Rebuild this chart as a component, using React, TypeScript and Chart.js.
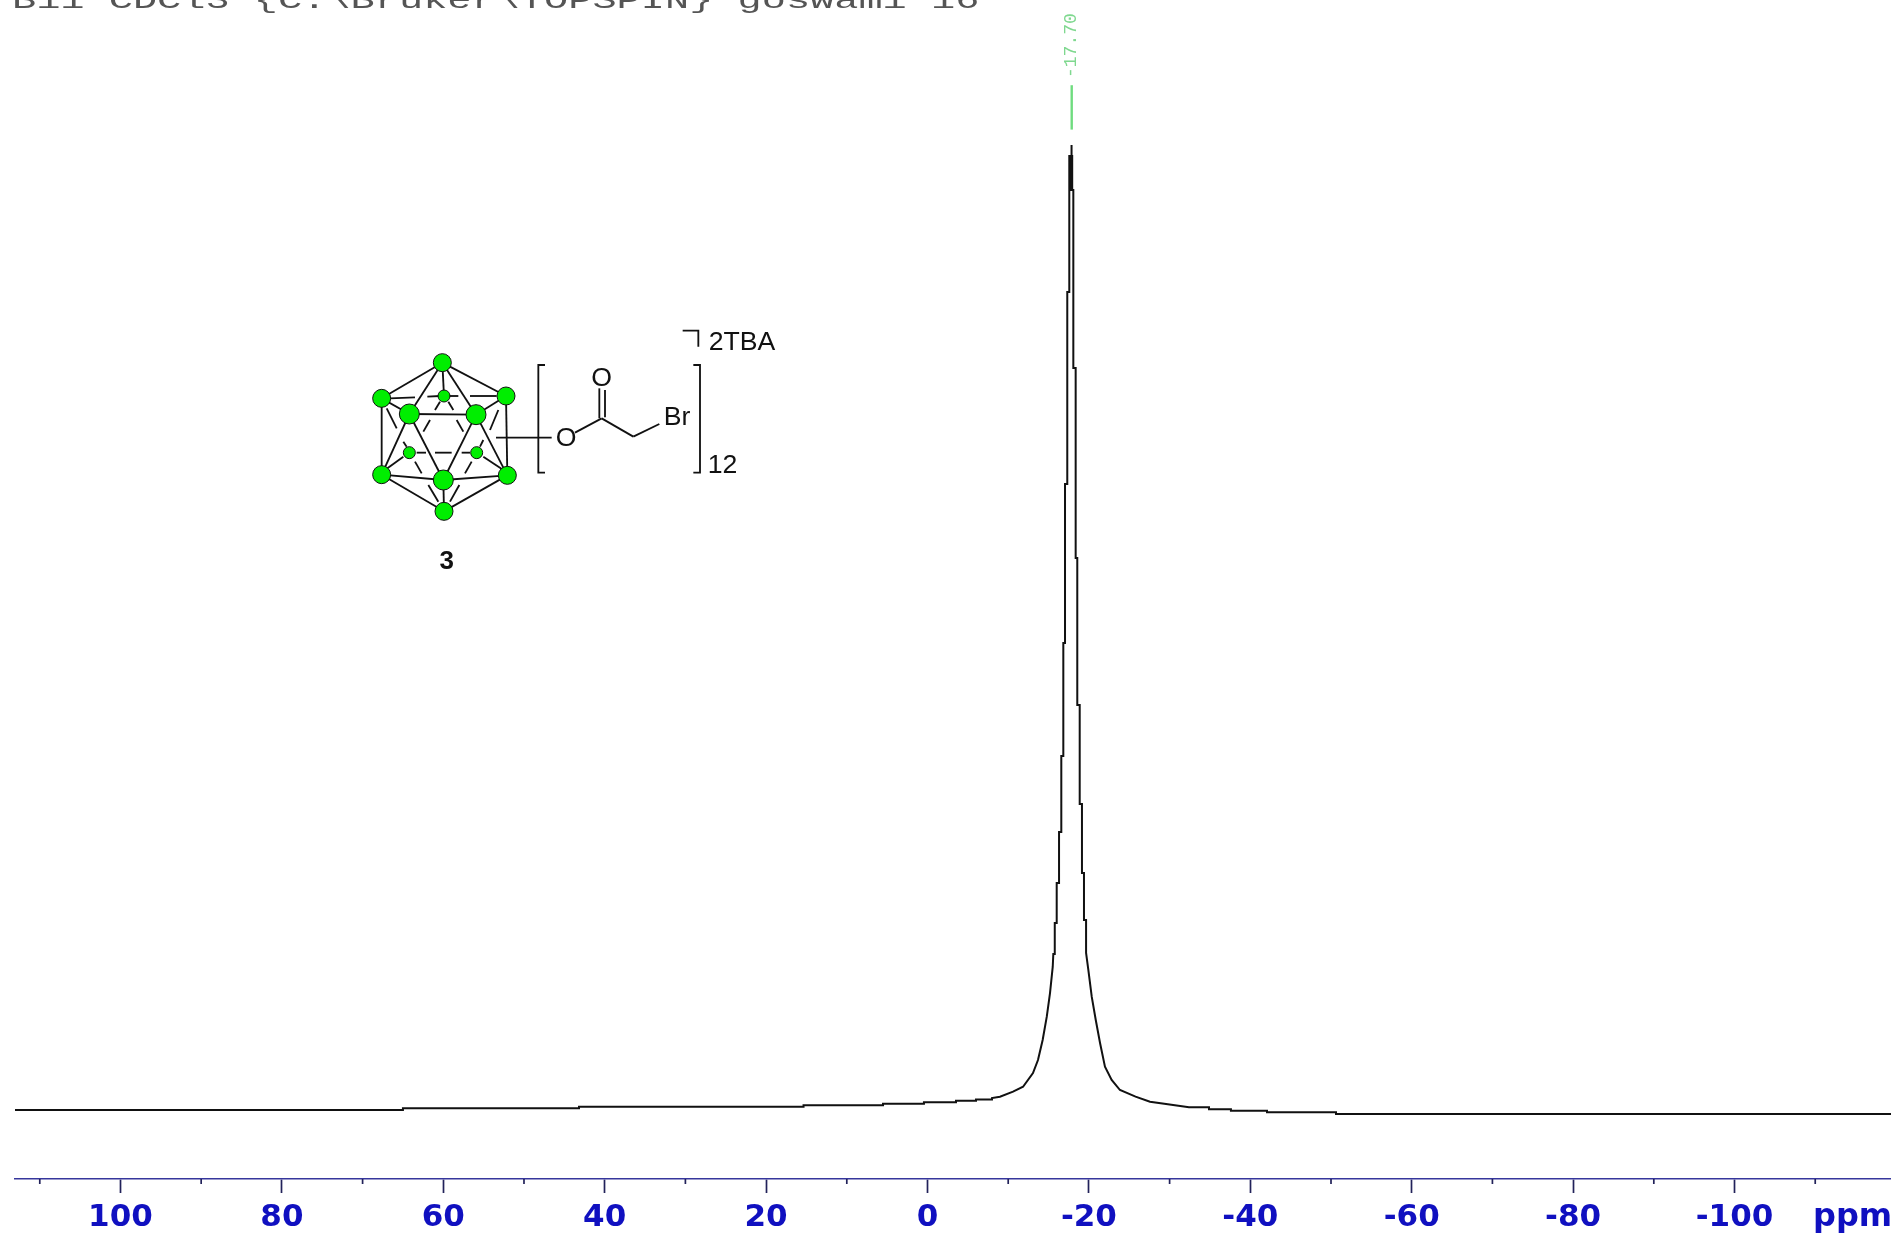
import React, { useEffect, useRef } from "react";
import { Chart, registerables } from "chart.js";

Chart.register(...registerables);

const titleText = "B11 CDCl3 {C:\\Bruker\\TOPSPIN} goswami 16";
const peakLabel = "-17.70";
const peakLinePpm = -17.87;
const xMajorTicks = [100, 80, 60, 40, 20, 0, -20, -40, -60, -80, -100];
const xMinorTicks = [110, 90, 70, 50, 30, 10, -10, -30, -50, -70, -90, -110];
const xMin = -119.39;
const xMax = 113.07;
const yMin = -7.15;
const yMax = 115.03;

const ppmValues = [
  113.07, 65.0, 65.0, 43.18, 43.18, 15.36, 15.36, 5.51, 5.51, 0.44, 0.44, -3.53, -3.53, -6.01, -6.01, -7.99, -7.99,
  -8.98, -10.6, -11.84, -13.07, -13.69, -14.27, -14.78, -15.18, -15.52, -15.59, -15.77, -15.77, -16.01, -16.01,
  -16.3, -16.3, -16.58, -16.58, -16.83, -16.83, -17.04, -17.04, -17.32, -17.32, -17.57, -17.57,
  -17.81, -17.81, -17.87, -17.87, -17.71, -17.71, -17.93, -17.93, -18.07, -18.07,
  -18.36, -18.36, -18.56, -18.56, -18.86, -18.86, -19.14, -19.14, -19.39, -19.39, -19.65, -19.65,
  -19.93, -20.35, -20.85, -21.38, -21.99, -22.82, -23.85, -25.78, -27.57, -29.56, -32.4, -34.88, -34.88,
  -37.6, -37.6, -42.07, -42.07, -50.62, -50.62, -119.39,
];
const intensityValues = [
  0, 0, 0.18, 0.18, 0.34, 0.34, 0.49, 0.49, 0.65, 0.65, 0.8, 0.8, 0.96, 0.96, 1.09, 1.09, 1.24,
  1.38, 1.9, 2.41, 3.83, 5.18, 7.25, 9.67, 12.12, 14.85, 16.17, 16.17, 19.38, 19.38, 23.52,
  23.52, 28.81, 28.81, 36.68, 36.68, 48.39, 48.39, 64.87, 64.87, 84.77, 84.77, 98.86,
  98.86, 100, 100, 95.34, 95.34, 98.86, 98.86, 95.34, 95.34, 76.89,
  76.89, 57.2, 57.2, 41.97, 41.97, 31.71, 31.71, 24.56, 24.56, 19.69, 19.69, 16.27,
  14.51, 11.74, 9.33, 6.94, 4.49, 3.11, 2.07, 1.38, 0.86, 0.62, 0.28, 0.28, 0.07,
  0.07, -0.07, -0.07, -0.24, -0.24, -0.41, -0.41,
];

const solidBonds = [
  [307, 158, 125, 265], [307, 158, 498, 258], [307, 158, 208, 312], [307, 158, 408, 314], [307, 158, 312, 258],
  [125, 265, 208, 312], [498, 258, 408, 314], [208, 312, 408, 314], [208, 312, 125, 494], [208, 312, 310, 510],
  [408, 314, 310, 510], [408, 314, 502, 496], [125, 265, 125, 494], [498, 258, 502, 496], [125, 494, 310, 510],
  [502, 496, 310, 510], [125, 494, 312, 604], [502, 496, 312, 604], [310, 510, 312, 604],
  [150, 265, 225, 262], [262, 260, 300, 258], [390, 258, 470, 258], [325, 258, 355, 258],
  [300, 275, 285, 300], [325, 275, 340, 300], [140, 295, 170, 355], [190, 395, 200, 410],
  [475, 300, 450, 360], [430, 390, 420, 410], [230, 428, 258, 428], [285, 428, 335, 428], [365, 428, 390, 428],
  [270, 330, 250, 365], [350, 330, 370, 365], [190, 440, 135, 480], [430, 440, 490, 480],
  [225, 455, 245, 490], [395, 455, 375, 490], [265, 525, 295, 575], [358, 525, 330, 575],
  [468, 383, 635, 383], [705, 368, 785, 325], [778, 235, 778, 325], [795, 240, 795, 322],
  [785, 325, 880, 380], [880, 380, 958, 342],
];
const brackets = [
  [[615, 165], [595, 165], [595, 488], [615, 488]],
  [[1060, 165], [1080, 165], [1080, 488], [1060, 488]],
  [[1028, 62], [1075, 62], [1075, 110]],
];
const nodes = [
  [307, 158, 27], [125, 265, 27], [498, 258, 27], [312, 258, 18], [208, 428, 18], [410, 428, 18],
  [208, 312, 30], [408, 314, 30], [125, 494, 27], [502, 496, 27], [310, 510, 30], [312, 604, 27],
];

const overlay = {
  id: "overlay",
  afterDraw(chart: any) {
    const { ctx, chartArea, scales } = chart;
    const x = scales.x;
    const y = scales.y;

    // minor ticks from the x scale
    ctx.save();
    ctx.strokeStyle = "#22225a";
    ctx.lineWidth = 1.7;
    xMinorTicks.forEach((v) => {
      const px = x.getPixelForValue(v);
      ctx.beginPath();
      ctx.moveTo(px, chartArea.bottom);
      ctx.lineTo(px, chartArea.bottom + 5);
      ctx.stroke();
    });
    ctx.restore();

    // unit
    ctx.save();
    ctx.fillStyle = "#1010c0";
    ctx.font = "bold 32px 'DejaVu Sans'";
    ctx.textBaseline = "alphabetic";
    ctx.textAlign = "left";
    ctx.fillText("ppm", 1813, 1226);
    ctx.restore();

    // title, stretched
    ctx.save();
    ctx.fillStyle = "#555";
    ctx.font = "26px 'Liberation Mono'";
    ctx.textBaseline = "alphabetic";
    ctx.textAlign = "left";
    ctx.translate(12, 8);
    ctx.scale(1.55, 1);
    ctx.fillText(titleText, 0, 0);
    ctx.restore();

    // peak label
    const peakX = x.getPixelForValue(peakLinePpm);
    ctx.save();
    ctx.strokeStyle = "#6fdc7f";
    ctx.lineWidth = 2.4;
    ctx.beginPath();
    ctx.moveTo(peakX, y.getPixelForValue(106.2));
    ctx.lineTo(peakX, y.getPixelForValue(101.6));
    ctx.stroke();
    ctx.translate(peakX, 78);
    ctx.rotate(-Math.PI / 2);
    ctx.fillStyle = "#7fd88f";
    ctx.font = "18px 'Liberation Mono'";
    ctx.textAlign = "left";
    ctx.textBaseline = "middle";
    ctx.fillText(peakLabel, 0, 0);
    ctx.restore();

    // structure inset
    ctx.save();
    ctx.translate(340, 310);
    ctx.scale(1 / 3, 1 / 3);
    ctx.strokeStyle = "#111";
    ctx.lineWidth = 5.5;
    ctx.lineCap = "butt";
    solidBonds.forEach(([a, b, c, d]) => {
      ctx.beginPath();
      ctx.moveTo(a, b);
      ctx.lineTo(c, d);
      ctx.stroke();
    });
    brackets.forEach((pts) => {
      ctx.beginPath();
      pts.forEach(([px, py], i) => (i ? ctx.lineTo(px, py) : ctx.moveTo(px, py)));
      ctx.stroke();
    });
    nodes.forEach(([cx, cy, r]) => {
      ctx.beginPath();
      ctx.arc(cx, cy, r, 0, Math.PI * 2);
      ctx.fillStyle = "#00ee00";
      ctx.fill();
      ctx.lineWidth = 3;
      ctx.strokeStyle = "#111";
      ctx.stroke();
    });
    ctx.fillStyle = "#111";
    ctx.font = "80px 'Liberation Sans'";
    ctx.textBaseline = "middle";
    ctx.textAlign = "center";
    ctx.fillText("O", 678, 387);
    ctx.fillText("O", 785, 206);
    ctx.fillText("Br", 1011, 324);
    ctx.textAlign = "left";
    ctx.fillText("2TBA", 1106, 97);
    ctx.fillText("12", 1103, 467);
    ctx.textAlign = "center";
    ctx.font = "bold 78px 'Liberation Sans'";
    ctx.fillText("3", 320, 754);
    ctx.restore();
  },
};

export default function App() {
  const ref = useRef<HTMLCanvasElement>(null);
  useEffect(() => {
    const chart = new Chart(ref.current as HTMLCanvasElement, {
      type: "scatter",
      data: {
        datasets: [
          {
            label: "11B NMR",
            data: ppmValues.map((p, i) => ({ x: p, y: intensityValues[i] })),
            showLine: true,
            borderColor: "#111",
            borderWidth: 2,
            pointRadius: 0,
            tension: 0,
          },
        ],
      },
      options: {
        animation: false,
        responsive: false,
        layout: { padding: { left: 15, right: 0, top: 0, bottom: 0 } },
        plugins: { legend: { display: false }, tooltip: { enabled: false }, title: { display: false } },
        scales: {
          x: {
            type: "linear",
            reverse: true,
            min: xMin,
            max: xMax,
            position: "bottom",
            afterBuildTicks: (axis: any) => {
              axis.ticks = xMajorTicks.map((value) => ({ value }));
            },
            afterFit: (axis: any) => {
              axis.height = 60;
            },
            border: { color: "#36369c", width: 1.6 },
            grid: { drawOnChartArea: false, drawTicks: true, tickLength: 14, tickColor: "#22225a", tickWidth: 1.7 },
            ticks: {
              autoSkip: false,
              maxRotation: 0,
              padding: 6,
              color: "#1010c0",
              font: { family: "'DejaVu Sans'", weight: "bold", size: 31 },
              callback: (v: any) => String(v),
            },
          },
          y: { type: "linear", display: false, min: yMin, max: yMax },
        },
      },
      plugins: [overlay],
    } as any);
    return () => chart.destroy();
  }, []);
  return (
    <div style={{ position: "fixed", left: 0, top: 0, width: 1891, height: 1239, background: "#fff" }}>
      <canvas ref={ref} width={1891} height={1239} style={{ display: "block" }} />
    </div>
  );
}
